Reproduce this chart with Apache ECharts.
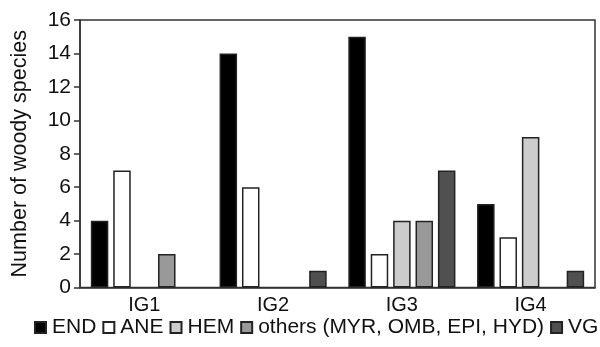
<!DOCTYPE html>
<html>
<head>
<meta charset="utf-8">
<script src="https://cdn.jsdelivr.net/npm/echarts@6/dist/echarts.min.js"></script>
<style>html,body{margin:0;padding:0;background:#fff}#c{width:600px;height:347px}</style>
</head>
<body>
<div id="c"></div>
<script>
const categories = ['IG1', 'IG2', 'IG3', 'IG4'];
const seriesNames = ['END', 'ANE', 'HEM', 'others (MYR, OMB, EPI, HYD)', 'VG'];
const endValues = [4, 14, 15, 5];
const aneValues = [7, 6, 2, 3];
const hemValues = [0, 0, 4, 9];
const othersValues = [2, 0, 4, 0];
const vgValues = [0, 1, 7, 1];
const yTicks = [0, 2, 4, 6, 8, 10, 12, 14, 16];

const seriesValues = [endValues, aneValues, hemValues, othersValues, vgValues];
const fills = ['#000000', '#ffffff', '#cccccc', '#999999', '#505050'];
const FONT = 'Liberation Sans';

const chart = echarts.init(document.getElementById('c'), null, {renderer: 'canvas'});
chart.setOption({
  animation: false,
  textStyle: {fontFamily: FONT},
  grid: {left: 80, right: 5, top: 20, bottom: 59.5, show: true, borderColor: '#333', borderWidth: 1.5, backgroundColor: 'transparent'},
  legend: {
    bottom: 9, left: 34, width: 566, padding: 0,
    itemWidth: 11, itemHeight: 11, itemGap: 6,
    icon: 'rect',
    textStyle: {fontFamily: FONT, fontSize: 21, color: '#111', padding: [0, 0, 0, 1]},
    data: seriesNames
  },
  xAxis: {
    type: 'category', data: categories,
    axisLine: {lineStyle: {color: '#333', width: 1.5}},
    axisTick: {show: false},
    axisLabel: {fontFamily: FONT, fontSize: 20, color: '#111', margin: 8}
  },
  yAxis: {
    type: 'value', min: yTicks[0], max: yTicks[yTicks.length - 1], interval: 2,
    name: 'Number of woody species', nameLocation: 'middle', nameGap: 49, nameRotate: 90,
    nameTextStyle: {fontFamily: FONT, fontSize: 21.5, color: '#111'},
    axisLine: {show: true, lineStyle: {color: '#333', width: 1.5}},
    axisTick: {show: true, inside: false, length: 6, lineStyle: {color: '#333', width: 1.5}},
    splitLine: {show: false},
    axisLabel: {fontFamily: FONT, fontSize: 21, color: '#111', margin: 9}
  },
  series: seriesNames.map((n, i) => ({
    name: n, type: 'bar',
    barWidth: 17.5, barGap: '28%',
    itemStyle: {color: fills[i], borderColor: '#222', borderWidth: 1.5},
    data: seriesValues[i].map(v => v === 0 ? null : v)
  }))
});
</script>
</body>
</html>
